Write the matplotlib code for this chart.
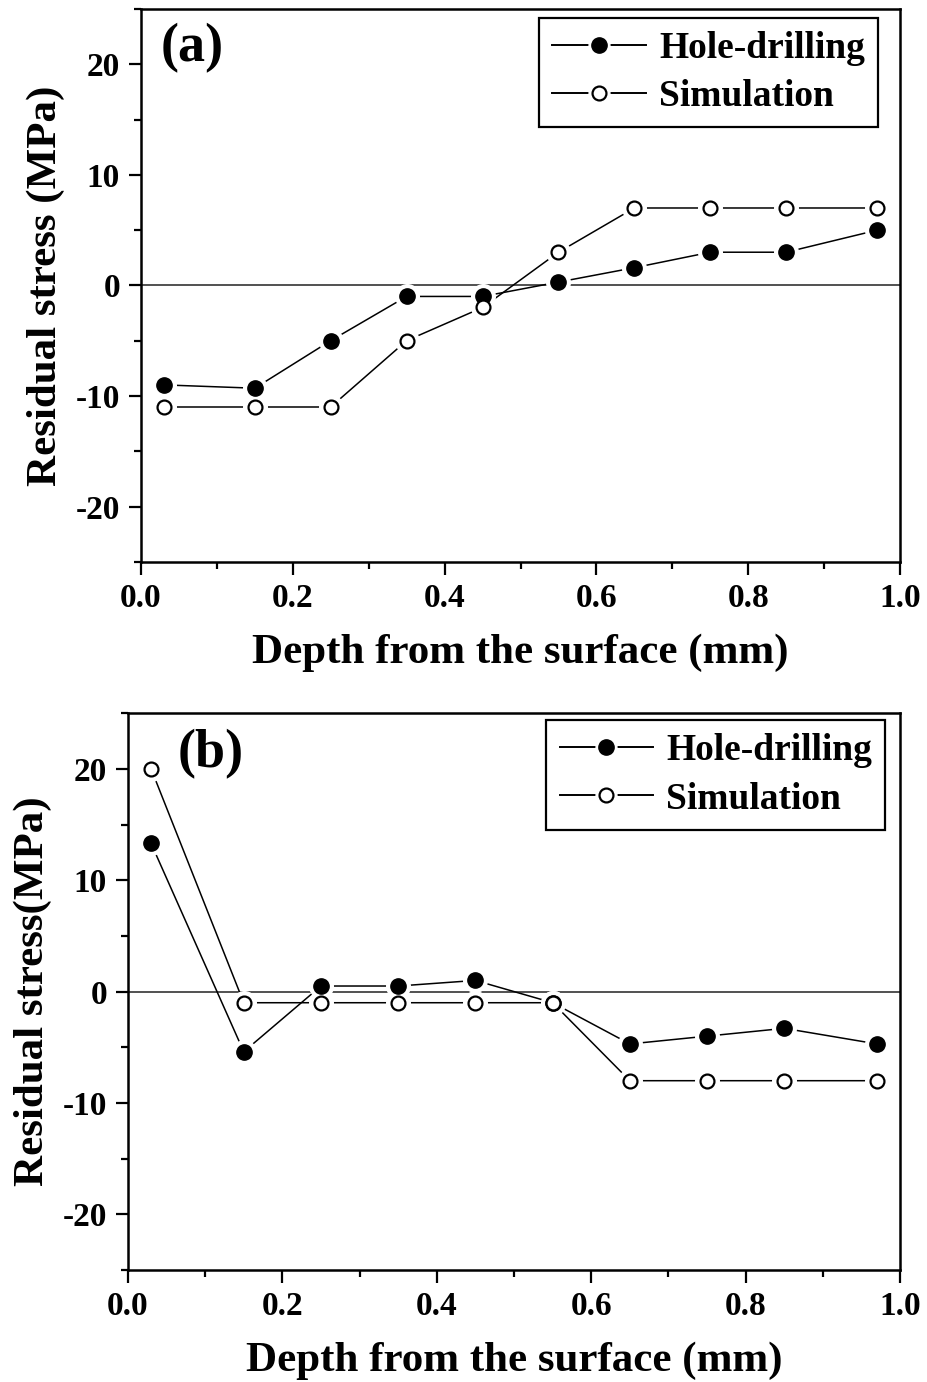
import numpy as np
import matplotlib.pyplot as plt
from matplotlib.ticker import MultipleLocator

plt.rcParams['font.family'] = ['Liberation Serif', 'DejaVu Serif']
plt.rcParams['font.weight'] = 'bold'
plt.rcParams['axes.unicode_minus'] = False

depth = [0.03, 0.15, 0.25, 0.35, 0.45, 0.55, 0.65, 0.75, 0.85, 0.97]

hole_a = [-9.0, -9.3, -5.0, -1.0, -1.0, 0.3, 1.6, 3.0, 3.0, 5.0]
sim_a = [-11.0, -11.0, -11.0, -5.0, -2.0, 3.0, 7.0, 7.0, 7.0, 7.0]

hole_b = [13.3, -5.4, 0.5, 0.5, 1.0, -1.0, -4.7, -4.0, -3.3, -4.7]
sim_b = [20.0, -1.0, -1.0, -1.0, -1.0, -1.0, -8.0, -8.0, -8.0, -8.0]

# tag, hole, sim, ylabel, axes rect, tag pos, legend anchor
panels = [
    ("(a)", hole_a, sim_a, "Residual stress (MPa)", [0.152, 0.5935, 0.819, 0.40],
     (0.026, 0.975), (0.971, 0.984)),
    ("(b)", hole_b, sim_b, "Residual stress(MPa)", [0.138, 0.081, 0.833, 0.403],
     (0.064, 0.972), (0.981, 0.987)),
]

MS = 11
HALO = 17

fig = plt.figure(figsize=(9.27, 13.82), dpi=100)

for tag, hole, sim, ylab, rect, tagpos, legpos in panels:
    ax = fig.add_axes(rect)
    ax.axhline(0, color='#333333', lw=1.2, zorder=1)

    for vals in (hole, sim):
        ax.plot(depth, vals, '-', color='black', lw=1.1, zorder=2)
        # white halo so the line stops short of each marker
        ax.plot(depth, vals, 'o', ls='none', ms=HALO, mfc='white', mec='white', zorder=3)
    ax.plot(depth, hole, 'o', ls='none', ms=MS, mfc='black', mec='black', zorder=4)
    ax.plot(depth, sim, 'o', ls='none', ms=MS - 1, mfc='white', mec='black',
            mew=1.6, zorder=5)

    # legend handles: line, white halo, marker overlaid
    ln, = ax.plot([], [], '-', color='black', lw=1.4)
    halo, = ax.plot([], [], 'o', ls='none', ms=HALO - 2, mfc='white', mec='white')
    m1, = ax.plot([], [], 'o', ls='none', ms=MS, mfc='black', mec='black')
    m2, = ax.plot([], [], 'o', ls='none', ms=MS - 1, mfc='white', mec='black', mew=1.6)
    leg = ax.legend([(ln, halo, m1), (ln, halo, m2)], ['Hole-drilling', 'Simulation'],
                    loc='upper right', bbox_to_anchor=legpos, borderaxespad=0,
                    frameon=True, fancybox=False, framealpha=1, edgecolor='black',
                    handlelength=2.5, borderpad=0.35, labelspacing=0.35,
                    handletextpad=0.35, prop={'weight': 'bold', 'size': 27})
    leg.get_frame().set_linewidth(1.6)

    ax.set_xlim(0, 1.0)
    ax.set_ylim(-25, 25)
    ax.xaxis.set_major_locator(MultipleLocator(0.2))
    ax.xaxis.set_minor_locator(MultipleLocator(0.1))
    ax.yaxis.set_major_locator(MultipleLocator(10))
    ax.yaxis.set_minor_locator(MultipleLocator(5))
    ax.set_yticks([-20, -10, 0, 10, 20])
    ax.xaxis.set_major_formatter(plt.FormatStrFormatter('%.1f'))
    ax.tick_params(which='major', direction='out', length=9, width=1.6,
                   labelsize=24, pad=6, top=False, right=False)
    ax.tick_params(which='minor', direction='out', length=5, width=1.6,
                   top=False, right=False)
    for s in ax.spines.values():
        s.set_linewidth(1.8)

    ax.set_xlabel("Depth from the surface (mm)", fontsize=31, fontweight='bold', labelpad=14)
    ax.set_ylabel(ylab, fontsize=31, fontweight='bold', labelpad=8)
    ax.text(tagpos[0], tagpos[1], tag, transform=ax.transAxes, fontsize=39,
            fontweight='bold', va='top', ha='left')

fig.savefig("out.png", dpi=100)
